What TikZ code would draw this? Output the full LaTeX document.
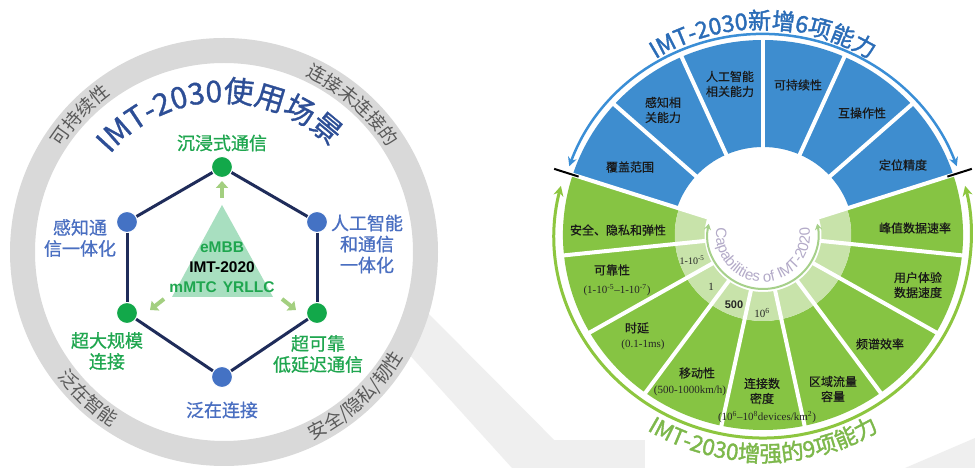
\documentclass[tikz,border=0pt]{standalone}
\usepackage{fontspec}
\setmainfont{Liberation Sans}
\newfontfamily\cjk{Noto Sans CJK SC}
\newfontfamily\cjkl[FakeBold=0.5]{Noto Sans CJK SC}
\newfontfamily\cjkm[FakeBold=0.8]{Noto Sans CJK SC}
\newfontfamily\cjkt[FakeBold=1.0]{Noto Sans CJK SC}
\newfontfamily\cjkb[FakeBold=1.6]{Noto Sans CJK SC}
\newfontfamily\numserif{Liberation Serif}
\newfontfamily\lsans{Liberation Sans}
\usetikzlibrary{decorations.text,arrows.meta}
\newcommand{\myfs}[1]{\fontsize{#1}{#1}\selectfont}
\definecolor{ringgray}{HTML}{D9D9D9}
\definecolor{ringtext}{HTML}{5A5A5A}
\definecolor{titleblue}{HTML}{2D4E96}
\definecolor{nodegreen}{HTML}{12A84A}
\definecolor{nodeblue}{HTML}{4472C4}
\definecolor{labgreen}{HTML}{1FA64F}
\definecolor{labblue}{HTML}{4A6FC1}
\definecolor{edgecol}{HTML}{1F2C5A}
\definecolor{mint}{HTML}{A8DFC0}
\definecolor{arrowgreen}{HTML}{A3CF80}
\definecolor{wedgeblue}{HTML}{3E8DCF}
\definecolor{arcblue}{HTML}{3A8ED6}
\definecolor{wedgegreen}{HTML}{86C443}
\definecolor{lightgreen}{HTML}{C8E3AA}
\definecolor{arcgreen}{HTML}{8DC63F}
\definecolor{capgreen}{HTML}{A6D08A}
\definecolor{title2blue}{HTML}{2A6CB7}
\definecolor{title2green}{HTML}{7DB84B}
\definecolor{captext}{HTML}{B3AAC8}
\definecolor{wm}{HTML}{EFEFEF}
\begin{document}
\begin{tikzpicture}[x=1pt,y=1pt,
  hexnode/.style={circle, minimum size=21pt, inner sep=0pt, draw=white, line width=1pt},
  hexedge/.style={draw=edgecol, line width=3pt},
  glab/.style={font=\cjkm\fontsize{18}{21}\selectfont, text=labgreen, align=center, inner sep=0pt},
  blab/.style={glab, text=labblue},
  smallarr/.style={draw=arrowgreen, line width=4pt, -{Triangle[length=7pt,width=12pt]}},
  wl/.style={font=\cjkl\fontsize{12}{15}\selectfont, text=black!90, align=center, inner sep=0pt},
  nl/.style={font=\numserif\myfs{11}, text=black!85, inner sep=0pt},
  trilab/.style={font=\lsans\bfseries\myfs{15.5}, inner sep=0pt}
]
\useasboundingbox (0,0) rectangle (975,468);
\fill[white] (0,0) rectangle (975,468);
% faint background shapes
\fill[wm] (378,148) -- (420,163) -- (582,0) -- (512,0) -- cycle;
\fill[wm] (540,0) rectangle (645,28);
\fill[wm] (905,0) -- (975,30) -- (975,0) -- cycle;

% ================= LEFT PANEL =================
\begin{scope}[shift={(224,216)}]
  \fill[white] (0,0) circle (189);
  \draw[ringgray, line width=25pt] (0,0) circle (201.5);
  \path[decorate, decoration={text along path, text align=center, text color=ringtext,
     text={|\cjk\myfs{18.5}|可持续性}}] (160:194) arc[start angle=160, end angle=113, radius=194];
  \path[decorate, decoration={text along path, text align=center, text color=ringtext,
     text={|\cjk\myfs{18.5}|连接未连接的}}] (80:194) arc[start angle=80, end angle=17.6, radius=194];
  \path[decorate, decoration={text along path, text align=center, text color=ringtext,
     text={|\cjk\myfs{18.5}|泛在智能}}] (203:208) arc[start angle=203, end angle=251, radius=208];
  \path[decorate, decoration={text along path, text align=center, text color=ringtext,
     text={|\cjk\myfs{18.5}|安全/隐私/韧性}}] (280:208) arc[start angle=280, end angle=345, radius=208];
  \path[decorate, decoration={text along path, text align=center, text color=titleblue,
     text={|\cjkt\myfs{30}|IMT-2030使用场景}}] (158:150) arc[start angle=158, end angle=26, radius=150];
\end{scope}

% triangle
\fill[mint] (222,263) -- (172,171) -- (273,171) -- cycle;
\node[trilab, text=labgreen] (tembb) at (222,221) {eMBB};
\node[trilab, text=black] (timt) at (222,201) {IMT-2020};
\node[trilab, text=labgreen] (tmm) at (222,181) {mMTC\hspace{6pt}YRLLC};

% hexagon nodes
\node[hexnode, fill=nodegreen] (ntop) at (222,301) {};
\node[hexnode, fill=nodeblue] (nul) at (127,246) {};
\node[hexnode, fill=nodeblue] (nur) at (317,246) {};
\node[hexnode, fill=nodegreen] (nll) at (127,155) {};
\node[hexnode, fill=nodegreen] (nlr) at (317,155) {};
\node[hexnode, fill=nodeblue] (nbot) at (222,91) {};
\draw[hexedge] (ntop) -- (nul);
\draw[hexedge] (ntop) -- (nur);
\draw[hexedge] (nul) -- (nll);
\draw[hexedge] (nur) -- (nlr);
\draw[hexedge] (nll) -- (nbot);
\draw[hexedge] (nlr) -- (nbot);

% small arrows
\coordinate (aup0) at (222,270); \coordinate (aup1) at (222,287);
\coordinate (al0) at (164,169); \coordinate (al1) at (150,158);
\coordinate (ar0) at (282,169); \coordinate (ar1) at (296,158);
\draw[smallarr] (aup0) -- (aup1);
\draw[smallarr] (al0) -- (al1);
\draw[smallarr] (ar0) -- (ar1);

% labels
\node[glab] (ltop) at (222,325) {沉浸式通信};
\node[blab] (lul) at (80,230) {感知通\\信一体化};
\node[blab] (lur) at (367,224) {人工智能\\和通信\\一体化};
\node[glab] (lll) at (107,117) {超大规模\\连接};
\node[glab] (llr) at (318,114) {超可靠\\低延迟通信};
\node[blab] (lbot) at (222,58) {泛在连接};

% ================= RIGHT PANEL =================
\begin{scope}[shift={(763,233)}, xscale=1.026]
  \foreach \a in {18,42,66,90,114,138}{
    \pgfmathsetmacro{\b}{\a+24}
    \fill[wedgeblue] (\a:88) arc[start angle=\a, end angle=\b, radius=88] -- (\b:195)
      arc[start angle=\b, end angle=\a, radius=195] -- cycle;
  }
  \foreach \a in {162,186,210,234,258,282,306,330,354}{
    \pgfmathsetmacro{\b}{\a+24}
    \fill[wedgegreen] (\a:86) arc[start angle=\a, end angle=\b, radius=86] -- (\b:195)
      arc[start angle=\b, end angle=\a, radius=195] -- cycle;
    \fill[lightgreen] (\a:57) arc[start angle=\a, end angle=\b, radius=57] -- (\b:86)
      arc[start angle=\b, end angle=\a, radius=86] -- cycle;
  }
  \foreach \a in {18,42,66,90,114,138,162,186,210,234,258,282,306,330,354}{
    \draw[white, line width=4pt] (\a:52) -- (\a:198);
  }
  \draw[arcblue, line width=2.5pt, {Stealth[length=9pt,width=9pt]}-{Stealth[length=9pt,width=9pt]}]
    (160:201) arc[start angle=160, end angle=20, radius=201];
  \draw[arcgreen, line width=3pt, {Stealth[length=10pt,width=10pt]}-{Stealth[length=10pt,width=10pt]}]
    (166:203) arc[start angle=166, end angle=374, radius=203];
  \draw[black, line width=2pt] (162:189) -- (162:214);
  \draw[black, line width=2pt] (18:189) -- (18:214);
  \draw[capgreen, line width=2pt, {Stealth[length=6pt,width=7pt]}-{Stealth[length=6pt,width=7pt]}]
    (168:54) arc[start angle=168, end angle=372, radius=54];
\end{scope}
\begin{scope}[shift={(763,233)}]
  \path[decorate, decoration={text along path, text align=center, text color=captext,
     text={|\lsans\myfs{15}|Capabilities of IMT-2020}}] (166:47) arc[start angle=166, end angle=374, radius=47];
  \path[decorate, decoration={text along path, text align=center, text color=title2blue,
     text={|\cjkb\myfs{23}|IMT-2030新增6项能力}}] (150:206) arc[start angle=150, end angle=30, radius=206];
  \path[decorate, decoration={text along path, text align=center, text color=title2green,
     text={|\cjkb\myfs{22.5}|IMT-2030增强的9项能力}}] (230:227) arc[start angle=230, end angle=310, radius=227];
\end{scope}

% blue wedge labels
\node[wl] (b1) at (630,301) {覆盖范围};
\node[wl] (b2) at (663,358) {感知相\\关能力};
\node[wl] (b3) at (730,384) {人工智能\\相关能力};
\node[wl] (b4) at (798,383) {可持续性};
\node[wl] (b5) at (862,355) {互操作性};
\node[wl] (b6) at (903,303) {定位精度};
% green wedge labels
\node[wl] (g1) at (618,238) {安全、隐私和弹性};
\node[wl] (g2) at (612,198) {可靠性};
\node[nl] (g2n) at (617,178) {(1-10\textsuperscript{-5}–1-10\textsuperscript{-7})};
\node[wl] (g3) at (637,140) {时延};
\node[nl] (g3n) at (643,123) {(0.1-1ms)};
\node[wl] (g4) at (697,95) {移动性};
\node[nl] (g4n) at (690,77) {(500-1000km/h)};
\node[wl] (g5) at (762,77) {连接数\\密度};
\node[nl] (g5n) at (767,51) {(10\textsuperscript{6}–10\textsuperscript{8}devices/km\textsuperscript{2})};
\node[wl] (g6) at (833,79) {区域流量\\容量};
\node[wl] (g7) at (880,124) {频谱效率};
\node[wl] (g8) at (918,183) {用户体验\\数据速度};
\node[wl] (g9) at (915,240) {峰值数据速率};
% values in light ring
\node[nl, font=\numserif\myfs{10}] (v1) at (692,208) {1-10\textsuperscript{-5}};
\node[nl] (v2) at (711,181) {1};
\node[nl, font=\lsans\bfseries\myfs{11}] (v3) at (734,163) {500};
\node[nl] (v4) at (762,155) {10\textsuperscript{6}};
\end{tikzpicture}
\end{document}
